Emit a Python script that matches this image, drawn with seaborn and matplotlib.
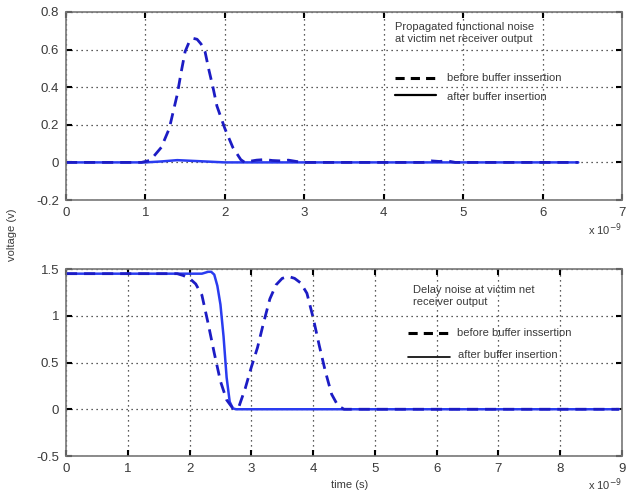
import numpy as np
import pandas as pd
import matplotlib
matplotlib.use("Agg")
import matplotlib.pyplot as plt
import seaborn as sns

# ---- data (time in ns, voltage in V) ----
top_before_t = [0, 0.95, 1.0, 1.05, 1.1, 1.2, 1.3, 1.4, 1.45, 1.5, 1.55, 1.6, 1.65, 1.7, 1.75, 1.8, 1.85,
                1.9, 2.0, 2.1, 2.2, 2.25, 2.3, 2.4, 2.5, 2.6, 2.7, 2.8, 2.9, 3.0, 4.5, 4.6, 4.7, 4.8, 4.9, 6.45]
top_before_v = [0, 0, 0.005, 0.01, 0.03, 0.08, 0.18, 0.36, 0.48, 0.59, 0.64, 0.66, 0.655, 0.63, 0.59, 0.49, 0.40,
                0.30, 0.18, 0.08, 0.015, 0.0, 0.005, 0.012, 0.015, 0.01, 0.008, 0.012, 0.005, 0.0, 0.0, 0.008, 0.005, 0.008, 0.0, 0.0]
top_after_t = [0, 1.0, 1.2, 1.4, 1.6, 1.8, 2.0, 6.45]
top_after_v = [0, 0, 0.005, 0.012, 0.008, 0.004, 0.0, 0.0]

bot_before_t = [0, 1.8, 1.9, 2.0, 2.1, 2.2, 2.3, 2.4, 2.5, 2.6, 2.7, 2.8, 2.9, 3.0, 3.1, 3.2, 3.3, 3.4, 3.5,
                3.6, 3.7, 3.8, 3.9, 4.0, 4.1, 4.2, 4.3, 4.4, 4.5, 8.95]
bot_before_v = [1.45, 1.45, 1.43, 1.40, 1.34, 1.22, 0.92, 0.60, 0.30, 0.10, 0.01, 0.03, 0.22, 0.45, 0.66, 0.93, 1.18,
                1.33, 1.40, 1.42, 1.40, 1.35, 1.24, 0.98, 0.68, 0.40, 0.16, 0.04, 0.0, 0.0]
bot_after_t = [0, 2.2, 2.3, 2.35, 2.4, 2.45, 2.5, 2.55, 2.6, 2.65, 2.7, 2.75, 8.95]
bot_after_v = [1.45, 1.45, 1.47, 1.47, 1.44, 1.32, 1.12, 0.78, 0.34, 0.08, 0.01, 0.0, 0.0]

top_ticks_x = [0, 1, 2, 3, 4, 5, 6, 7]
top_ticks_y = [-0.2, 0, 0.2, 0.4, 0.6, 0.8]
top_ylabels = ["-0.2", "0", "0.2", "0.4", "0.6", "0.8"]
bot_ticks_x = [0, 1, 2, 3, 4, 5, 6, 7, 8, 9]
bot_ticks_y = [-0.5, 0, 0.5, 1, 1.5]
bot_ylabels = ["-0.5", "0", "0.5", "1", "1.5"]

sns.set_theme(style="white")
plt.rcParams['font.family'] = ['Liberation Sans', 'DejaVu Sans']
plt.rcParams['axes.unicode_minus'] = False

TXT = "#3a3a3a"
C_DASH = "#1c1cc4"
C_SOLID = "#2a3cf0"

W, H = 630, 494
fig = plt.figure(figsize=(6.3, 4.94), dpi=100)
RIGHT = 622
ax1 = fig.add_axes([66/W, 1-200/H, (RIGHT-66)/W, 188/H])
ax2 = fig.add_axes([66/W, 1-456/H, (RIGHT-66)/W, 187/H])

def style(ax, xt, yt, ylab, xlim, ylim):
    ax.set_xlim(*xlim)
    ax.set_ylim(*ylim)
    ax.set_xticks(xt)
    ax.set_xticklabels([str(v) for v in xt])
    ax.set_yticks(yt)
    ax.set_yticklabels(ylab)
    ax.grid(True, linestyle=(0, (1, 3)), color="black", linewidth=0.9, alpha=0.85)
    ax.tick_params(direction="in", length=4, width=1.5, colors="black", labelcolor=TXT,
                   labelsize=9.5, top=True, right=True, bottom=True, left=True, pad=5)
    for s in ax.spines.values():
        s.set_color("#777777")
        s.set_linewidth(1.2)
    ax.set_xlabel("")
    ax.set_ylabel("")

df1a = pd.DataFrame({"t": top_before_t, "v": top_before_v})
df1b = pd.DataFrame({"t": top_after_t, "v": top_after_v})
sns.lineplot(data=df1b, x="t", y="v", ax=ax1, color=C_SOLID, linewidth=1.8)
sns.lineplot(data=df1a, x="t", y="v", ax=ax1, color=C_DASH, linewidth=2.0)
ax1.lines[-1].set_dashes((4, 2.5))
style(ax1, top_ticks_x, top_ticks_y, top_ylabels, (0, 7), (-0.2, 0.8))

df2a = pd.DataFrame({"t": bot_before_t, "v": bot_before_v})
df2b = pd.DataFrame({"t": bot_after_t, "v": bot_after_v})
sns.lineplot(data=df2b, x="t", y="v", ax=ax2, color=C_SOLID, linewidth=1.8)
sns.lineplot(data=df2a, x="t", y="v", ax=ax2, color=C_DASH, linewidth=2.0)
ax2.lines[-1].set_dashes((4, 2.5))
style(ax2, bot_ticks_x, bot_ticks_y, bot_ylabels, (0, 9), (-0.5, 1.5))

# annotations (top)
fig.text(395/W, 1-33/H, "Propagated functional noise\nat victim net receiver output",
         fontsize=8, color=TXT, va="center", ha="left", linespacing=1.15)
fig.add_artist(plt.Line2D([395/W, 436/W], [1-78/H]*2, color="black", lw=2.2, dashes=(3, 2)))
fig.text(447/W, 1-78/H, "before buffer inssertion", fontsize=8, color=TXT, va="center")
fig.add_artist(plt.Line2D([395/W, 436/W], [1-95/H]*2, color="black", lw=1.6))
fig.text(447/W, 1-97/H, "after buffer insertion", fontsize=8, color=TXT, va="center")

# annotations (bottom)
fig.text(413/W, 1-296/H, "Delay noise at victim net\nreceiver output",
         fontsize=8, color=TXT, va="center", ha="left", linespacing=1.15)
fig.add_artist(plt.Line2D([408/W, 448/W], [1-333/H]*2, color="black", lw=2.2, dashes=(3, 2)))
fig.text(457/W, 1-333/H, "before buffer inssertion", fontsize=8, color=TXT, va="center")
fig.add_artist(plt.Line2D([408/W, 450/W], [1-357/H]*2, color="black", lw=1.2))
fig.text(458/W, 1-355/H, "after buffer insertion", fontsize=8, color=TXT, va="center")

fig.text(12/W, 1-235/H, "voltage (v)", rotation=90, fontsize=8, color=TXT, va="center", ha="center")
fig.text(350/W, 1-485/H, "time (s)", fontsize=8, color=TXT, va="center", ha="center")
fig.text(588/W, 1-230/H, "x 10$^{-9}$", fontsize=8, color=TXT, va="center", ha="left")
fig.text(588/W, 1-485/H, "x 10$^{-9}$", fontsize=8, color=TXT, va="center", ha="left")

fig.savefig("out.png", dpi=100)
